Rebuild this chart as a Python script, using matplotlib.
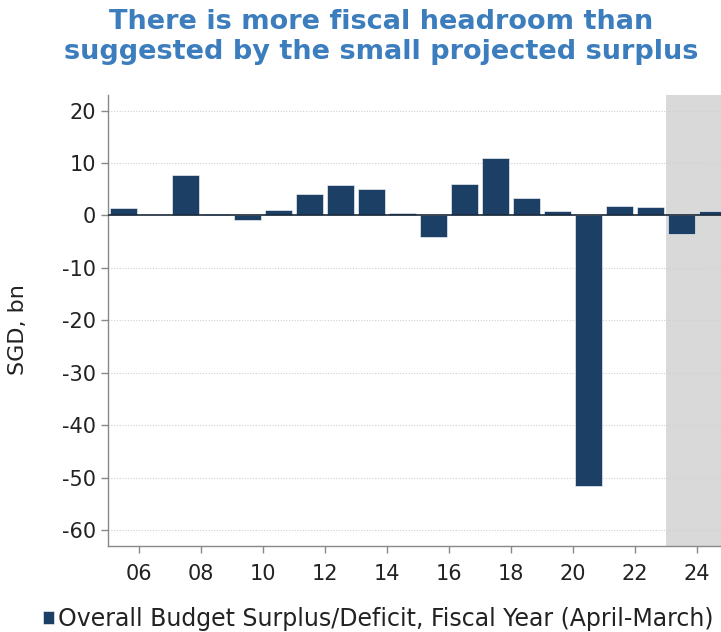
import matplotlib.pyplot as plt
import numpy as np

plt.rcParams['font.family'] = 'DejaVu Sans'
plt.rcParams['axes.unicode_minus'] = False

# fiscal years (April-March), FY2005..FY2024
years = np.arange(2005, 2025)
balance = [1.4, 0.1, 7.7, 0.2, -0.8, 1.0, 4.0, 5.8, 5.0, 0.5,
           -4.1, 6.0, 10.9, 3.4, 0.9, -51.6, 1.9, 1.7, -3.6, 0.8]
xtick_years = np.arange(2006, 2025, 2)
xtick_labels = ['%02d' % (y % 100) for y in xtick_years]
yticks = np.arange(-60, 21, 10)
forecast_start = 2023

bar_col = '#1c3f66'
axis_col = '#888888'
text_col = '#222222'

fig = plt.figure(figsize=(7.21, 6.32), dpi=100)
ax = fig.add_axes([0.1498, 0.136, 0.8502, 0.714])

ax.axvspan(forecast_start, 2030, color='#d9d9d9', lw=0, zorder=0)
ax.bar(years + 0.5, balance, width=0.87, color=bar_col, edgecolor='white',
       linewidth=0.4, zorder=3, label='Overall Budget Surplus/Deficit, Fiscal Year (April-March)')
ax.axhline(0, color='#1a2a3a', lw=1.2, zorder=4)

ax.set_xlim(2005, 2024.77)
ax.set_ylim(-63, 23)
ax.set_xticks(xtick_years)
ax.set_xticklabels(xtick_labels)
ax.set_yticks(yticks)
for y in yticks:
    if y != 0:
        ax.axhline(y, color='#d0d0d0', lw=0.8, ls=(0, (1, 1.5)), zorder=1)

for s in ['top', 'right']:
    ax.spines[s].set_visible(False)
for s in ['left', 'bottom']:
    ax.spines[s].set_color(axis_col)
    ax.spines[s].set_linewidth(1.0)
ax.tick_params(axis='both', colors=axis_col, labelcolor=text_col, labelsize=15,
               length=5, width=1)
ax.tick_params(axis='x', pad=8)

fig.text(0.025, 0.478, 'SGD, bn', rotation=90, ha='center', va='center',
         fontsize=16, color=text_col)

fig.text(0.528, 0.985, 'There is more fiscal headroom than\nsuggested by the small projected surplus',
         ha='center', va='top', fontsize=19.5, fontweight='bold', color='#3b7dbd',
         linespacing=1.2)

fig.legend(loc='lower center', bbox_to_anchor=(0.525, -0.032), frameon=False, fontsize=17,
           handlelength=0.45, handleheight=0.45, handletextpad=0.2, labelcolor=text_col)

fig.savefig('out.png', dpi=100)
